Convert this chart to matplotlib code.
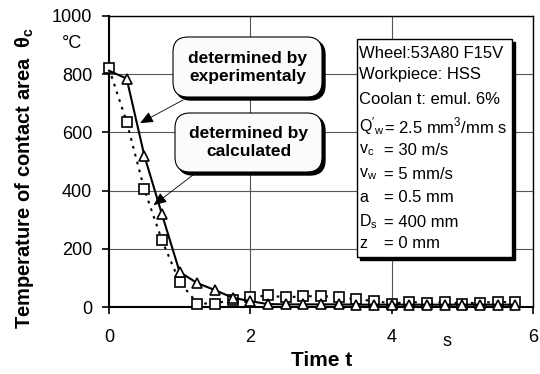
import numpy as np
import matplotlib
matplotlib.use("Agg")
import matplotlib.pyplot as plt
from matplotlib.patches import FancyBboxPatch, Rectangle
from matplotlib.transforms import IdentityTransform

plt.rcParams['font.family'] = ['Liberation Sans', 'DejaVu Sans']

# ---------- data ----------
t_square = [0, 0.25, 0.5, 0.75, 1.0, 1.25, 1.5, 1.75, 2.0, 2.25, 2.5, 2.75,
            3.0, 3.25, 3.5, 3.75, 4.0, 4.25, 4.5, 4.75, 5.0, 5.25, 5.5, 5.75]
temp_square = [820, 636, 404, 229, 86, 12, 12, 25, 33, 40, 33, 37,
               37, 35, 26, 21, 12, 17, 15, 17, 12, 15, 17, 17]

t_tri = [0, 0.25, 0.5, 0.75, 1.0, 1.25, 1.5, 1.75, 2.0, 2.25, 2.5, 2.75,
         3.0, 3.25, 3.5, 3.75, 4.0, 4.25, 4.5, 4.75, 5.0, 5.25, 5.5, 5.75]
temp_tri = [812, 785, 520, 318, 120, 82, 58, 32, 20, 10, 9, 9,
            9, 9, 8, 8, 8, 8, 8, 8, 8, 8, 8, 8]

x_ticks = [0, 2, 4, 6]
y_ticks = [0, 200, 400, 600, 800, 1000]

info_head = ["Wheel:53A80 F15V", "Workpiece: HSS", "Coolan t: emul. 6%"]
info_names = [r"$\mathregular{Q'_w}$", r"$\mathregular{v_c}$", r"$\mathregular{v_w}$",
              "a", r"$\mathregular{D_s}$", "z"]
info_values = [r"= 2.5 mm$^\mathregular{3}$/mm s", "= 30 m/s", "= 5 mm/s",
               "= 0.5 mm", "= 400 mm", "= 0 mm"]

W, H = 540, 374
fig = plt.figure(figsize=(W / 100, H / 100), dpi=100)
ax = fig.add_axes([109 / W, 1 - 307 / H, (533 - 109) / W, (307 - 16) / H])

# ---------- curves ----------
ax.plot(t_square, temp_square, color="black", lw=1.5, ls=(0, (1.3, 2.6)),
        marker="s", ms=7.5, mfc="white", mec="black", mew=1.2, zorder=3,
        clip_on=False)
ax.plot(t_tri, temp_tri, color="black", lw=1.5,
        marker="^", ms=7.5, mfc="white", mec="black", mew=1.2,
        markevery=slice(1, None), zorder=4, clip_on=False)

ax.set_xlim(0, 6)
ax.set_ylim(0, 1000)
ax.set_xticks(x_ticks)
ax.set_yticks(y_ticks)
ax.tick_params(labelsize=13, direction="out", length=5, width=1.2, pad=11)
ax.tick_params(axis="y", pad=7)
ax.grid(True, color="#555555", lw=0.8)
ax.set_axisbelow(True)
for sp in ax.spines.values():
    sp.set_linewidth(1.0)
ax.spines["left"].set_linewidth(1.5)
ax.spines["bottom"].set_linewidth(1.5)

# ---------- axis texts ----------
fig.text(25 / W, 1 - 178 / H,
         r"Temperature of contact area  $\mathregular{\theta_c}$",
         rotation=90, ha="center", va="center", fontsize=14.5, fontweight="bold")
fig.text(72 / W, 1 - 43 / H, "°C", ha="center", va="center", fontsize=13)
fig.text(322 / W, 1 - 360 / H, "Time t", ha="center", va="center",
         fontsize=15, fontweight="bold")
fig.text(447 / W, 1 - 341 / H, "s", ha="center", va="center", fontsize=13)

# ---------- callout boxes ----------
def callout(x0, y0, x1, y1, label):
    # pixel coords, origin top-left
    px, py, w, h = x0, H - y1, x1 - x0, y1 - y0
    shadow = FancyBboxPatch((px + 3, py - 3), w, h,
                            boxstyle="round,pad=0,rounding_size=15",
                            transform=IdentityTransform(), fc="black", ec="black",
                            zorder=5)
    box = FancyBboxPatch((px, py), w, h,
                         boxstyle="round,pad=0,rounding_size=15",
                         transform=IdentityTransform(), fc="#fbfbfb", ec="black",
                         lw=0.8, zorder=6)
    fig.patches.extend([shadow, box])
    fig.text((x0 + x1) / 2 / W, 1 - (y0 + y1) / 2 / H, label, ha="center", va="center",
             fontsize=12.5, fontweight="bold", linespacing=1.25, zorder=7)

callout(173, 37, 322, 97, "determined by\nexperimentaly")
callout(175, 113, 322, 172, "determined by\ncalculated")

ax.annotate("", xy=(0.44, 632), xycoords="data",
            xytext=(183 / W, 1 - 100 / H), textcoords="figure fraction",
            arrowprops=dict(arrowstyle="-|>,head_length=0.8,head_width=0.35",
                            color="black", lw=0.6, shrinkA=0, shrinkB=0), zorder=6)
ax.annotate("", xy=(0.63, 350), xycoords="data",
            xytext=(193 / W, 1 - 175 / H), textcoords="figure fraction",
            arrowprops=dict(arrowstyle="-|>,head_length=0.8,head_width=0.35",
                            color="black", lw=0.6, shrinkA=0, shrinkB=0), zorder=6)

# ---------- info box ----------
bx0, by0, bx1, by1 = 357, 39, 512, 257
fig.patches.append(Rectangle((bx0 + 3, H - by1 - 3), bx1 - bx0, by1 - by0,
                             transform=IdentityTransform(), fc="black", ec="black", zorder=5))
fig.patches.append(Rectangle((bx0, H - by1), bx1 - bx0, by1 - by0,
                             transform=IdentityTransform(), fc="white", ec="black",
                             lw=1.0, zorder=6))
line_y = [53, 74, 100, 126, 150, 174, 198, 222, 243]
for i, s in enumerate(info_head):
    fig.text(359 / W, 1 - line_y[i] / H, s, ha="left", va="center", fontsize=12, zorder=7)
for j, (n, v) in enumerate(zip(info_names, info_values)):
    y = 1 - line_y[j + 3] / H
    fig.text(359 / W, y, n, ha="left", va="center", fontsize=11.5, zorder=7)
    fig.text(384 / W, y, v, ha="left", va="center", fontsize=12, zorder=7)

fig.savefig("out.png", dpi=100)
